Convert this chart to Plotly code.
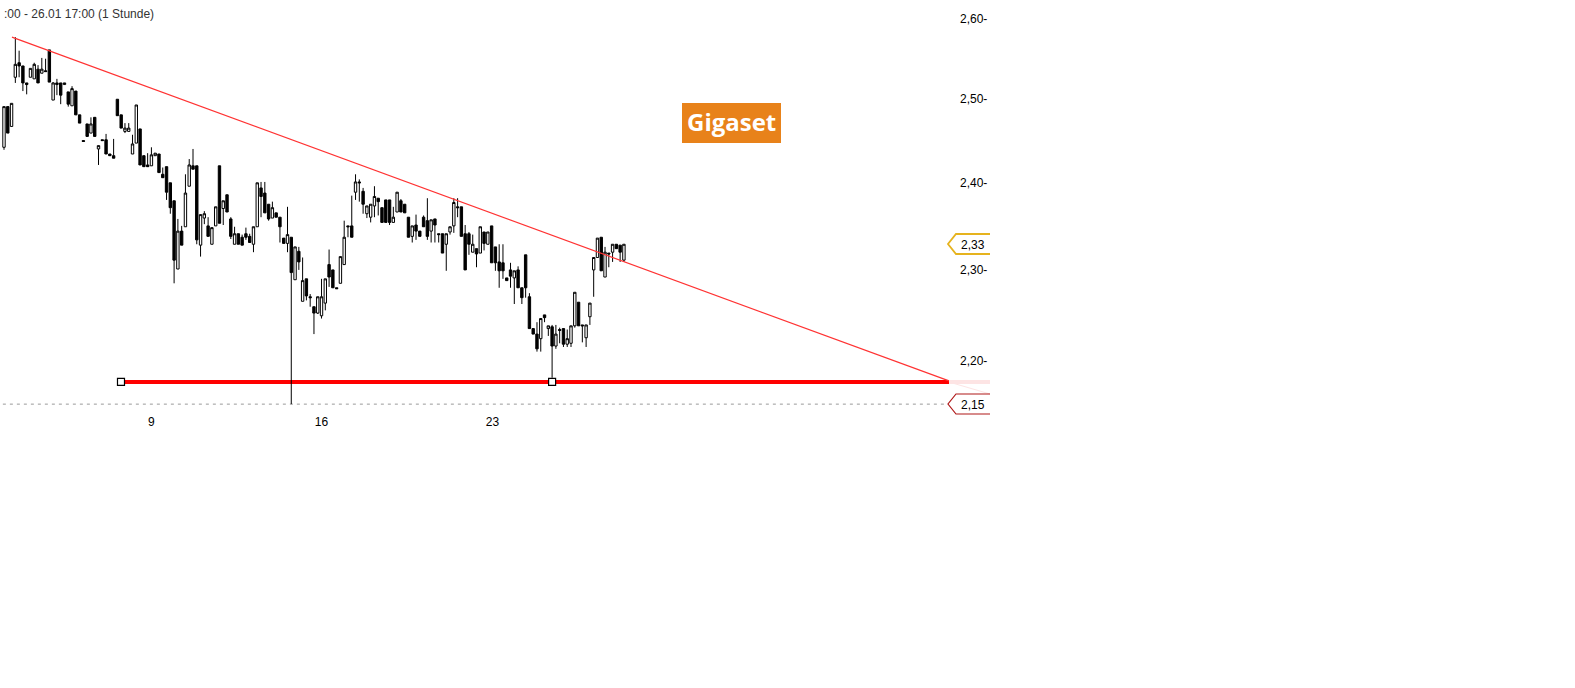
import math
import plotly.graph_objects as go

W, H = 1575, 688

open_ = [2.442, 2.491, 2.467, 2.527, 2.545, 2.541, 2.520, 2.527, 2.525, 2.537,
         2.532, 2.535, 2.561, 2.499, 2.520, 2.520, 2.518, 2.509, 2.492, 2.510,
         2.481, 2.450, 2.470, 2.459, 2.478, 2.440, 2.451, 2.451, 2.434, 2.432,
         2.500, 2.481, 2.461, 2.461, 2.434, 2.447, 2.464, 2.432, 2.421, 2.420,
         2.432, 2.434, 2.410, 2.419, 2.400, 2.379, 2.301, 2.344, 2.349, 2.396,
         2.420, 2.420, 2.328, 2.359, 2.350, 2.329, 2.350, 2.420, 2.370, 2.386,
         2.358, 2.329, 2.341, 2.337, 2.341, 2.338, 2.329, 2.349, 2.394, 2.388,
         2.375, 2.359, 2.365, 2.360, 2.336, 2.330, 2.337, 2.289, 2.321, 2.265,
         2.290, 2.270, 2.259, 2.252, 2.249, 2.263, 2.306, 2.300, 2.280, 2.285,
         2.306, 2.350, 2.350, 2.389, 2.401, 2.390, 2.364, 2.360, 2.373, 2.382,
         2.371, 2.380, 2.380, 2.354, 2.366, 2.379, 2.375, 2.360, 2.338, 2.351,
         2.344, 2.360, 2.356, 2.344, 2.358, 2.341, 2.341, 2.329, 2.343, 2.350,
         2.372, 2.372, 2.341, 2.341, 2.320, 2.324, 2.319, 2.343, 2.329, 2.350,
         2.326, 2.309, 2.308, 2.291, 2.300, 2.291, 2.300, 2.280, 2.317, 2.270,
         2.235, 2.229, 2.224, 2.250, 2.235, 2.237, 2.216, 2.234, 2.235, 2.218,
         2.219, 2.238, 2.264, 2.239, 2.225, 2.248, 2.300, 2.314, 2.337, 2.292,
         2.319, 2.320, 2.329, 2.328, 2.311]
close = [2.491, 2.459, 2.495, 2.543, 2.541, 2.520, 2.518, 2.538, 2.543, 2.520,
         2.537, 2.534, 2.521, 2.520, 2.518, 2.505, 2.520, 2.494, 2.513, 2.481,
         2.471, 2.449, 2.455, 2.470, 2.455, 2.444, 2.450, 2.434, 2.432, 2.429,
         2.480, 2.465, 2.465, 2.465, 2.446, 2.493, 2.421, 2.419, 2.419, 2.433,
         2.435, 2.412, 2.406, 2.389, 2.371, 2.311, 2.344, 2.328, 2.388, 2.421,
         2.416, 2.334, 2.363, 2.364, 2.338, 2.348, 2.372, 2.353, 2.379, 2.366,
         2.338, 2.341, 2.329, 2.328, 2.337, 2.331, 2.349, 2.400, 2.384, 2.365,
         2.358, 2.371, 2.360, 2.349, 2.330, 2.340, 2.297, 2.326, 2.309, 2.288,
         2.271, 2.269, 2.252, 2.270, 2.270, 2.290, 2.292, 2.280, 2.279, 2.315,
         2.337, 2.349, 2.337, 2.401, 2.400, 2.375, 2.373, 2.375, 2.384, 2.378,
         2.354, 2.354, 2.354, 2.360, 2.389, 2.366, 2.365, 2.337, 2.350, 2.344,
         2.338, 2.349, 2.338, 2.357, 2.351, 2.340, 2.319, 2.341, 2.349, 2.377,
         2.371, 2.338, 2.300, 2.329, 2.329, 2.318, 2.349, 2.330, 2.343, 2.308,
         2.308, 2.299, 2.299, 2.288, 2.293, 2.299, 2.280, 2.269, 2.280, 2.235,
         2.229, 2.213, 2.246, 2.247, 2.238, 2.216, 2.229, 2.233, 2.218, 2.224,
         2.238, 2.275, 2.238, 2.238, 2.239, 2.263, 2.314, 2.336, 2.299, 2.320,
         2.318, 2.329, 2.324, 2.320, 2.329]
high = [2.491, 2.491, 2.495, 2.577, 2.560, 2.541, 2.520, 2.538, 2.545, 2.542,
        2.551, 2.550, 2.561, 2.521, 2.525, 2.520, 2.520, 2.509, 2.516, 2.510,
        2.481, 2.450, 2.470, 2.478, 2.478, 2.444, 2.451, 2.458, 2.434, 2.452,
        2.500, 2.481, 2.471, 2.471, 2.457, 2.493, 2.464, 2.432, 2.435, 2.442,
        2.435, 2.434, 2.418, 2.419, 2.400, 2.379, 2.358, 2.350, 2.410, 2.428,
        2.440, 2.420, 2.363, 2.367, 2.360, 2.348, 2.372, 2.420, 2.379, 2.386,
        2.360, 2.349, 2.341, 2.340, 2.348, 2.341, 2.349, 2.400, 2.401, 2.401,
        2.375, 2.378, 2.365, 2.360, 2.336, 2.372, 2.337, 2.326, 2.326, 2.314,
        2.290, 2.273, 2.259, 2.270, 2.290, 2.290, 2.323, 2.300, 2.280, 2.315,
        2.356, 2.350, 2.385, 2.410, 2.404, 2.394, 2.373, 2.375, 2.396, 2.382,
        2.371, 2.380, 2.380, 2.372, 2.389, 2.381, 2.375, 2.360, 2.350, 2.363,
        2.344, 2.362, 2.382, 2.357, 2.358, 2.341, 2.341, 2.341, 2.349, 2.382,
        2.382, 2.372, 2.351, 2.343, 2.340, 2.324, 2.349, 2.343, 2.343, 2.350,
        2.326, 2.329, 2.329, 2.291, 2.308, 2.299, 2.304, 2.280, 2.317, 2.274,
        2.235, 2.242, 2.246, 2.250, 2.238, 2.239, 2.239, 2.236, 2.235, 2.234,
        2.238, 2.275, 2.264, 2.239, 2.239, 2.263, 2.314, 2.336, 2.337, 2.326,
        2.319, 2.329, 2.329, 2.328, 2.329]
low = [2.439, 2.459, 2.467, 2.520, 2.527, 2.510, 2.506, 2.527, 2.525, 2.520,
       2.532, 2.534, 2.521, 2.499, 2.505, 2.494, 2.518, 2.491, 2.492, 2.481,
       2.471, 2.449, 2.455, 2.459, 2.455, 2.421, 2.450, 2.434, 2.432, 2.429,
       2.480, 2.465, 2.459, 2.461, 2.434, 2.447, 2.421, 2.419, 2.419, 2.420,
       2.432, 2.412, 2.406, 2.380, 2.364, 2.285, 2.301, 2.328, 2.349, 2.396,
       2.416, 2.329, 2.315, 2.352, 2.338, 2.329, 2.350, 2.353, 2.351, 2.366,
       2.335, 2.329, 2.329, 2.328, 2.334, 2.331, 2.320, 2.349, 2.360, 2.365,
       2.356, 2.359, 2.360, 2.331, 2.330, 2.320, 2.154, 2.289, 2.300, 2.265,
       2.266, 2.259, 2.229, 2.251, 2.246, 2.255, 2.281, 2.280, 2.279, 2.285,
       2.306, 2.337, 2.337, 2.380, 2.378, 2.364, 2.359, 2.354, 2.360, 2.362,
       2.354, 2.354, 2.351, 2.354, 2.366, 2.366, 2.365, 2.337, 2.331, 2.334,
       2.338, 2.349, 2.334, 2.331, 2.331, 2.331, 2.319, 2.299, 2.340, 2.342,
       2.360, 2.338, 2.300, 2.317, 2.320, 2.303, 2.319, 2.322, 2.329, 2.308,
       2.299, 2.280, 2.290, 2.288, 2.280, 2.262, 2.280, 2.262, 2.269, 2.235,
       2.229, 2.210, 2.210, 2.242, 2.227, 2.182, 2.213, 2.219, 2.215, 2.215,
       2.215, 2.236, 2.238, 2.220, 2.215, 2.239, 2.270, 2.314, 2.299, 2.292,
       2.303, 2.309, 2.324, 2.309, 2.309]

price_ticks = [2.60, 2.50, 2.40, 2.30, 2.20]
price_labels = ["2,60-", "2,50-", "2,40-", "2,30-", "2,20-"]
date_ticks = [39.0, 84.0, 129.2]
date_labels = ["9", "16", "23"]

trend_x = [2.1, 250]
trend_y = [2.577, 2.1786]
support_level = 2.1775
support_x = [30.95, 250]
handle_x = [30.95, 145]
low_level = 2.154
low_start = -0.3
low_end = 250

# pixel helpers for the things that sit outside the plot area
def px(x):
    return x / W

def py(y):
    return 1 - y / H

def flag(y, color, width):
    return dict(
        type="path", xref="paper", yref="paper",
        path=(f"M {px(990)} {py(y - 10)} L {px(956)} {py(y - 10)} L {px(948)} {py(y)} "
              f"L {px(956)} {py(y + 10)} L {px(990)} {py(y + 10)}"),
        line=dict(color=color, width=width),
    )

x = list(range(len(open_)))

fig = go.Figure()
fig.add_trace(go.Candlestick(
    x=x, open=open_, high=high, low=low, close=close,
    increasing=dict(line=dict(color="black", width=1), fillcolor="white"),
    decreasing=dict(line=dict(color="black", width=1), fillcolor="black"),
    whiskerwidth=0,
))
fig.add_trace(go.Scatter(
    x=trend_x, y=trend_y, mode="lines",
    line=dict(color="#ff3333", width=1.2),
))
fig.add_trace(go.Scatter(
    x=handle_x, y=[support_level] * len(handle_x), mode="markers",
    marker=dict(symbol="square", size=7, color="white", line=dict(color="black", width=1.2)),
))

fig.update_layout(
    width=W, height=H,
    margin=dict(l=0, r=0, t=0, b=0),
    paper_bgcolor="white", plot_bgcolor="white",
    showlegend=False,
    boxgap=0.1,
    font=dict(family="Liberation Sans", size=12, color="#000000"),
    xaxis=dict(
        domain=[0, 959 / W],
        range=[(0 - 4) / 3.78, (959 - 4) / 3.78],
        rangeslider=dict(visible=False),
        showgrid=False, zeroline=False, showline=False, ticks="",
        tickmode="array", tickvals=date_ticks, ticktext=date_labels,
    ),
    yaxis=dict(
        type="log", side="right",
        domain=[py(413), 1],
        range=[math.log10(2.1447), math.log10(2.6242)],
        showgrid=False, zeroline=False, showline=False, ticks="",
        tickmode="array", tickvals=price_ticks, ticktext=price_labels,
    ),
    shapes=[
        dict(type="line", xref="x", yref="y", layer="below",
             x0=low_start, x1=low_end, y0=low_level, y1=low_level,
             line=dict(color="#999999", width=1, dash="3px,4px")),
        dict(type="line", xref="x", yref="y", layer="below",
             x0=support_x[0], x1=support_x[1], y0=support_level, y1=support_level,
             line=dict(color="#ff0000", width=4)),
        dict(type="line", xref="paper", yref="paper",
             x0=px(949), x1=px(990), y0=py(382), y1=py(382),
             line=dict(color="#fde4e4", width=4)),
        dict(type="line", xref="paper", yref="paper",
             x0=px(949), x1=px(990), y0=py(382), y1=py(394),
             line=dict(color="#fde4e4", width=1)),
        flag(244, "#e6b31e", 1.8),
        flag(404, "#b01818", 1.2),
        dict(type="rect", xref="paper", yref="paper",
             x0=px(682), x1=px(781), y0=py(103), y1=py(143),
             fillcolor="#e8821a", line=dict(width=0)),
    ],
    annotations=[
        dict(text=":00 - 26.01 17:00 (1 Stunde)", xref="paper", yref="paper",
             x=px(1.5), y=py(14), xanchor="left", yanchor="middle", showarrow=False,
             font=dict(size=12, color="#333333")),
        dict(text="2,33", xref="paper", yref="paper",
             x=px(958.5), y=py(245), xanchor="left", yanchor="middle", showarrow=False),
        dict(text="2,15", xref="paper", yref="paper",
             x=px(958.5), y=py(405), xanchor="left", yanchor="middle", showarrow=False),
        dict(text="<b>Gigaset</b>", xref="paper", yref="paper",
             x=px(731), y=py(122), xanchor="center", yanchor="middle", showarrow=False,
             font=dict(family="Open Sans", size=24, color="white")),
    ],
)

# page default margin would push the figure 8px right and down
fig.write_html("out.html", config=dict(displayModeBar=False),
               post_script="document.body.style.margin='0';")
